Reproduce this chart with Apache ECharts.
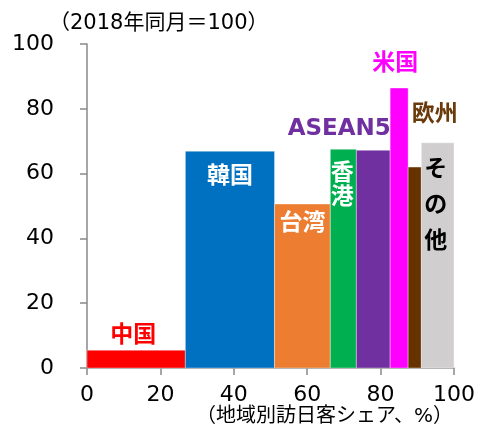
<!DOCTYPE html>
<html><head><meta charset="utf-8">
<script src="https://cdn.jsdelivr.net/npm/echarts@6/dist/echarts.min.js"></script>
<style>html,body{margin:0;padding:0;background:#fff}#c{width:478px;height:430px}</style>
</head><body><div id="c"></div>
<script>
const regions = ['中国', '韓国', '台湾', '香港', 'ASEAN5', '米国', '欧州', 'その他'];
const labelTexts = ['中国', '韓国', '台湾', '香\n港', 'ASEAN5', '米国', '欧州', 'そ\nの\n他'];
const shares = [26.8, 24.3, 15.2, 7.1, 9.2, 4.9, 3.6, 8.9];
const indexValues = [5.5, 66.9, 50.6, 67.5, 67.2, 86.4, 62.0, 69.5];
const xTicks = [0, 20, 40, 60, 80, 100];
const yTicks = [0, 20, 40, 60, 80, 100];

const barColors = ['#FF0000', '#0070C0', '#ED7D31', '#00B050', '#7030A0', '#FF00FF', '#663300', '#D0CECE'];
const labelColors = ['#FF0000', '#FFFFFF', '#FFFFFF', '#FFFFFF', '#7030A0', '#FF00FF', '#6B3A0B', '#000000'];
// label offsets relative to bar top-center (px): [dx, dy, lineHeight]
const labelOffsets = [[-3, -14, 24], [0, 26, 24], [0, 20, 24], [-1, 37, 24], [-34, -21, 24], [-4, -24, 24], [20, -52, 24], [-2, 63, 36]];

const rows = [];
let acc = 0;
for (let i = 0; i < regions.length; i++) {
  rows.push([acc, acc + shares[i], indexValues[i], i]);
  acc += shares[i];
}

const chart = echarts.init(document.getElementById('c'), null, {renderer: 'canvas'});
const fontFam = '"DejaVu Sans", "Noto Sans CJK JP", sans-serif';
chart.setOption({
  animation: false,
  title: [
    {text: '（2018年同月＝100）', left: 44, top: 8, textStyle: {fontSize: 21, fontWeight: 'normal', color: '#000', fontFamily: fontFam}},
    {text: '（地域別訪日客シェア、%）', left: 191, top: 402, textStyle: {fontSize: 20, fontWeight: 'normal', color: '#000', fontFamily: fontFam}}
  ],
  grid: {left: 87, right: 23, top: 44, bottom: 62},
  xAxis: {
    type: 'value', min: 0, max: 100, interval: 20,
    axisLine: {lineStyle: {color: '#898989', width: 1.5}},
    axisTick: {show: true, length: 7, lineStyle: {color: '#898989', width: 1.5}},
    splitLine: {show: false},
    axisLabel: {fontSize: 22, color: '#000', fontFamily: fontFam, margin: 16,
      formatter: v => xTicks.includes(v) ? String(v) : ''}
  },
  yAxis: {
    type: 'value', min: 0, max: 100, interval: 20,
    axisLine: {show: true, lineStyle: {color: '#898989', width: 1.5}},
    axisTick: {show: true, length: 7, lineStyle: {color: '#898989', width: 1.5}},
    splitLine: {show: false},
    axisLabel: {fontSize: 22, color: '#000', fontFamily: fontFam, margin: 33,
      formatter: v => yTicks.includes(v) ? String(v) : ''}
  },
  series: [{
    type: 'custom',
    encode: {x: [0, 1], y: 2},
    data: rows,
    renderItem: function (params, api) {
      const i = api.value(3);
      const p0 = api.coord([api.value(0), api.value(2)]);
      const p1 = api.coord([api.value(1), 0]);
      const cx = (p0[0] + p1[0]) / 2;
      const off = labelOffsets[i];
      return {
        type: 'group',
        children: [
          {type: 'rect', shape: {x: p0[0], y: p0[1], width: p1[0] - p0[0], height: p1[1] - p0[1]},
            style: {fill: barColors[i], stroke: 'rgba(255,255,255,0.6)', lineWidth: 0.6}},
          {type: 'text', z2: 10, style: {
            text: labelTexts[i], x: cx + off[0], y: p0[1] + off[1],
            align: 'center', verticalAlign: 'middle', textAlign: 'center', textVerticalAlign: 'middle',
            fill: labelColors[i], fontSize: 23, fontWeight: 'bold', fontFamily: fontFam, lineHeight: off[2]
          }}
        ]
      };
    }
  }]
});
</script></body></html>
